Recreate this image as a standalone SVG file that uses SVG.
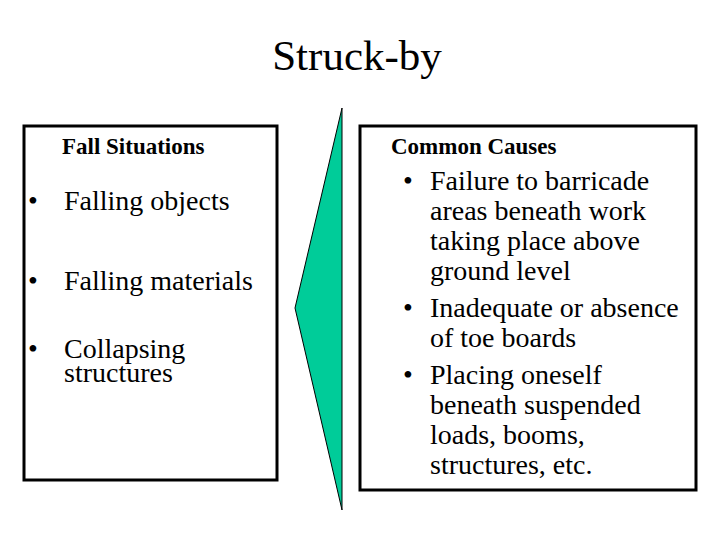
<svg xmlns="http://www.w3.org/2000/svg" width="720" height="540" viewBox="0 0 720 540">
<defs>
<style>
.box{fill:#fff;stroke:#000;stroke-width:3}
</style>
</defs>
<rect width="720" height="540" fill="#fff"/>
<g font-family="'Liberation Serif', 'Times New Roman', Times, serif" fill="#000">
<text x="357" y="70" font-size="43" text-anchor="middle">Struck-by</text>
<g id="left">
<rect class="box" x="24" y="126" width="253" height="354"/>
<text x="62" y="154" font-size="23" font-weight="bold">Fall Situations</text>
<g font-size="28">
<text x="28" y="210">•</text><text x="64" y="210">Falling objects</text>
<text x="28" y="290">•</text><text x="64" y="290">Falling materials</text>
<text x="28" y="358">•</text><text x="64" y="358">Collapsing</text>
<text x="64" y="382">structures</text>
</g>
</g>
<g id="arrow">
<polygon points="342,108 295,308 342,510" fill="#00cc99" stroke="#000" stroke-width="1"/>
</g>
<g id="right">
<rect class="box" x="360" y="126" width="336" height="364"/>
<text x="391" y="154" font-size="23" font-weight="bold">Common Causes</text>
<g font-size="28">
<text x="403" y="190">•</text>
<text x="430" y="190">Failure to barricade</text>
<text x="430" y="220">areas beneath work</text>
<text x="430" y="250">taking place above</text>
<text x="430" y="280">ground level</text>
<text x="403" y="317">•</text>
<text x="430" y="317">Inadequate or absence</text>
<text x="430" y="347">of toe boards</text>
<text x="403" y="384">•</text>
<text x="430" y="384">Placing oneself</text>
<text x="430" y="414">beneath suspended</text>
<text x="430" y="444">loads, booms,</text>
<text x="430" y="474">structures, etc.</text>
</g>
</g>
</g>
</svg>
